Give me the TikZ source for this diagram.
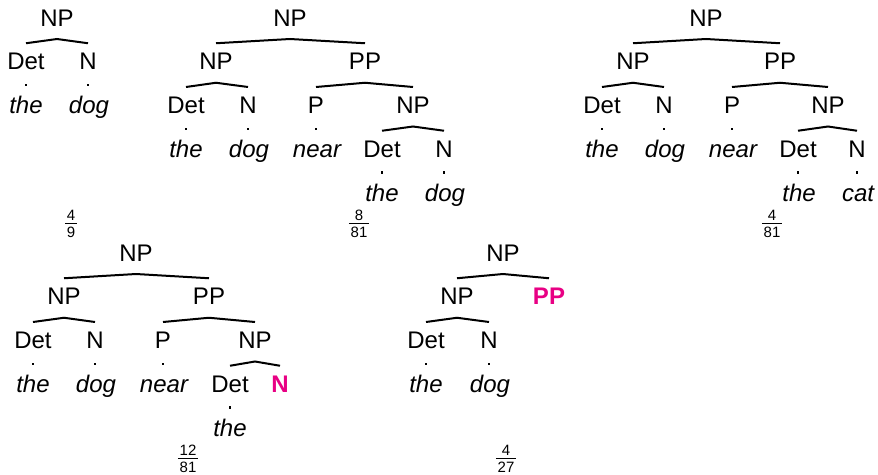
\documentclass[tikz,border=0pt]{standalone}
\usepackage{fontspec}
\setmainfont{Liberation Sans}
\usetikzlibrary{calc}
\definecolor{hot}{RGB}{232,0,132}
\tikzset{
  lab/.style={font=\fontsize{24}{28}\selectfont, anchor=base, inner sep=0pt},
  wrd/.style={lab, font=\fontsize{24}{28}\selectfont\itshape},
  hl/.style={lab, font=\fontsize{24}{28}\selectfont\bfseries, text=hot},
  treebar/.style={line width=2pt},
  fr/.style={font=\fontsize{15}{18}\selectfont, anchor=base, inner sep=0pt},
  fbar/.style={line width=0.9pt}
}
% bar from parent #1 to children #2 and #3
\newcommand\tbar[3]{\draw[treebar] ([yshift=26.5pt]#2.base) -- ([yshift=-13pt]#1.base) -- ([yshift=26.5pt]#3.base);}
% dot below preterminal #1
\newcommand\tdot[1]{\fill ([xshift=-1pt,yshift=-14pt]#1.base) rectangle ++(2,2.5);}
% fraction: name, x, tree base y, num, den
\newcommand\pfrac[5]{%
  \node[fr] (#1n) at (#2,#3+194.5) {#4};
  \node[fr] (#1d) at (#2,#3+211) {#5};
  \coordinate (#1b) at (#2,#3+197);
  \draw[fbar] ($(#1d.west |- #1b)+(-1.5,0)$) -- ($(#1d.east |- #1b)+(1.5,0)$);}
\begin{document}
\begin{tikzpicture}[x=1pt,y=-1pt]
\useasboundingbox (0,0) rectangle (878,474);
% row baselines
\def\ra{26}
\def\rb{69.75}
\def\rc{113.5}
\def\rd{157.25}
\def\re{201}
\def\sa{261}
\def\sb{304.75}
\def\sc{348.5}
\def\sd{392.25}
\def\se{436}

% ---------- Tree 1
\node[lab] (a0) at (57,\ra) {NP};
\node[lab] (a1) at (26,\rb) {Det};
\node[lab] (a2) at (88,\rb) {N};
\node[wrd] (a3) at (26,\rc) {the};
\node[wrd] (a4) at (89,\rc) {dog};
\tbar{a0}{a1}{a2}
\tdot{a1}\tdot{a2}
\pfrac{fa}{71}{\ra}{4}{9}

% ---------- Tree 2
\node[lab] (b0) at (290,\ra) {NP};
\node[lab] (b1) at (216,\rb) {NP};
\node[lab] (b2) at (365,\rb) {PP};
\node[lab] (b3) at (186,\rc) {Det};
\node[lab] (b4) at (248,\rc) {N};
\node[lab] (b5) at (316,\rc) {P};
\node[lab] (b6) at (413,\rc) {NP};
\node[wrd] (b7) at (186,\rd) {the};
\node[wrd] (b8) at (249,\rd) {dog};
\node[wrd] (b9) at (317,\rd) {near};
\node[lab] (b10) at (382,\rd) {Det};
\node[lab] (b11) at (444,\rd) {N};
\node[wrd] (b12) at (382,\re) {the};
\node[wrd] (b13) at (445,\re) {dog};
\tbar{b0}{b1}{b2}
\tbar{b1}{b3}{b4}
\tbar{b2}{b5}{b6}
\tbar{b6}{b10}{b11}
\tdot{b3}\tdot{b4}\tdot{b5}\tdot{b10}\tdot{b11}
\pfrac{fb}{359}{\ra}{8}{81}

% ---------- Tree 3
\node[lab] (c0) at (706,\ra) {NP};
\node[lab] (c1) at (633,\rb) {NP};
\node[lab] (c2) at (780,\rb) {PP};
\node[lab] (c3) at (602,\rc) {Det};
\node[lab] (c4) at (664,\rc) {N};
\node[lab] (c5) at (732,\rc) {P};
\node[lab] (c6) at (828,\rc) {NP};
\node[wrd] (c7) at (602,\rd) {the};
\node[wrd] (c8) at (665,\rd) {dog};
\node[wrd] (c9) at (733,\rd) {near};
\node[lab] (c10) at (798,\rd) {Det};
\node[lab] (c11) at (857,\rd) {N};
\node[wrd] (c12) at (799,\re) {the};
\node[wrd] (c13) at (858,\re) {cat};
\tbar{c0}{c1}{c2}
\tbar{c1}{c3}{c4}
\tbar{c2}{c5}{c6}
\tbar{c6}{c10}{c11}
\tdot{c3}\tdot{c4}\tdot{c5}\tdot{c10}\tdot{c11}
\pfrac{fc}{772}{\ra}{4}{81}

% ---------- Tree 4
\node[lab] (d0) at (136,\sa) {NP};
\node[lab] (d1) at (64,\sb) {NP};
\node[lab] (d2) at (209,\sb) {PP};
\node[lab] (d3) at (33,\sc) {Det};
\node[lab] (d4) at (95,\sc) {N};
\node[lab] (d5) at (163,\sc) {P};
\node[lab] (d6) at (255,\sc) {NP};
\node[wrd] (d7) at (33,\sd) {the};
\node[wrd] (d8) at (96,\sd) {dog};
\node[wrd] (d9) at (164,\sd) {near};
\node[lab] (d10) at (230,\sd) {Det};
\node[hl]  (d11) at (280,\sd) {N};
\node[wrd] (d12) at (230,\se) {the};
\tbar{d0}{d1}{d2}
\tbar{d1}{d3}{d4}
\tbar{d2}{d5}{d6}
\tbar{d6}{d10}{d11}
\tdot{d3}\tdot{d4}\tdot{d5}\tdot{d10}
\pfrac{fd}{188}{\sa}{12}{81}

% ---------- Tree 5
\node[lab] (e0) at (503,\sa) {NP};
\node[lab] (e1) at (457,\sb) {NP};
\node[hl]  (e2) at (549,\sb) {PP};
\node[lab] (e3) at (426,\sc) {Det};
\node[lab] (e4) at (489,\sc) {N};
\node[wrd] (e5) at (426,\sd) {the};
\node[wrd] (e6) at (490,\sd) {dog};
\tbar{e0}{e1}{e2}
\tbar{e1}{e3}{e4}
\tdot{e3}\tdot{e4}
\pfrac{fe}{506}{\sa}{4}{27}
\end{tikzpicture}
\end{document}
